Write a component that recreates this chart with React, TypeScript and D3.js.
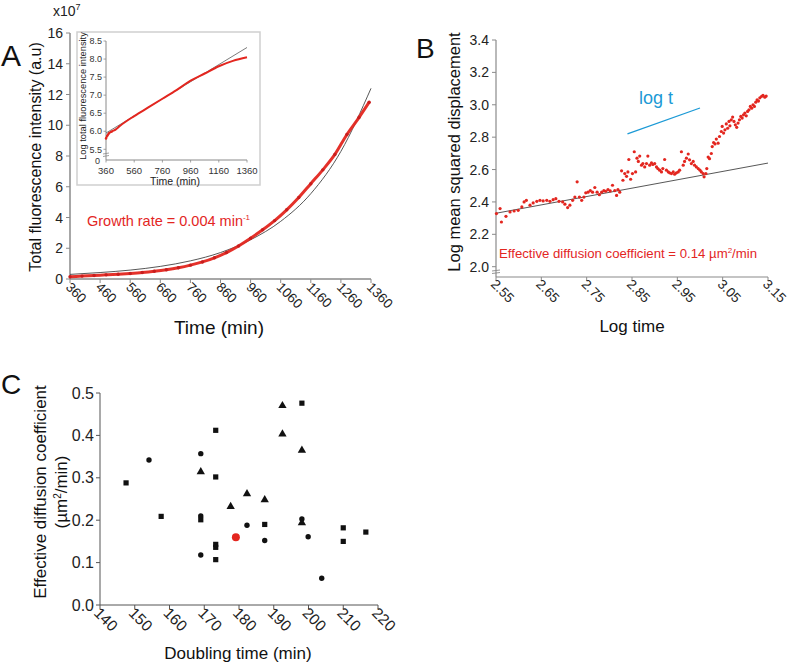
import React from "react";
import * as d3 from "d3";

const FONT = "'Liberation Sans', Arial, Helvetica, sans-serif";
const RED = "#e3261f";
const BLUE = "#1c9ad6";

// ---------- Panel A data ----------
const growthTimes = [360, 400, 440, 480, 520, 560, 600, 640, 680, 720, 760, 800, 840, 880, 920, 960, 1000, 1040, 1080, 1120, 1160, 1200, 1240, 1280, 1320, 1354];
const growthValues = [0.15, 0.19, 0.23, 0.27, 0.31, 0.36, 0.42, 0.5, 0.6, 0.73, 0.9, 1.11, 1.38, 1.72, 2.15, 2.65, 3.2, 3.8, 4.5, 5.3, 6.2, 7.1, 8.1, 9.4, 10.5, 11.5];
const fitTimes = [360, 460, 560, 660, 760, 860, 960, 1060, 1160, 1260, 1360];
const fitValues = [0.3, 0.42, 0.58, 0.82, 1.18, 1.72, 2.55, 3.75, 5.55, 8.3, 12.4];
const aXTicks = [360, 460, 560, 660, 760, 860, 960, 1060, 1160, 1260, 1360];
const aYTicks = [0, 2, 4, 6, 8, 10, 12, 14, 16];

const insetTimes = [360, 370, 380, 400, 430, 460, 560, 660, 760, 860, 960, 1060, 1160, 1260, 1360];
const insetLog = [5.8, 5.88, 5.94, 5.99, 6.05, 6.15, 6.42, 6.66, 6.9, 7.14, 7.4, 7.6, 7.8, 7.95, 8.05];
const insetFitTimes = [360, 1360];
const insetFitLog = [5.95, 8.32];
const insetXTicks = [360, 560, 760, 960, 1160, 1360];
const insetYTicks = [5.5, 6.0, 6.5, 7.0, 7.5, 8.0, 8.5];

// ---------- Panel B data ----------
const msdLogTime = [2.551, 2.559, 2.562, 2.572, 2.581, 2.59, 2.599, 2.607, 2.612, 2.617, 2.625, 2.632, 2.64, 2.647, 2.654, 2.662, 2.669, 2.676, 2.682, 2.689, 2.697, 2.702, 2.708, 2.713, 2.719, 2.724, 2.729, 2.734, 2.739, 2.744, 2.748, 2.753, 2.758, 2.763, 2.768, 2.773, 2.778, 2.783, 2.788, 2.792, 2.797, 2.802, 2.807, 2.812, 2.816, 2.819, 2.823, 2.827, 2.83, 2.834, 2.838, 2.841, 2.843, 2.847, 2.851, 2.855, 2.858, 2.861, 2.864, 2.867, 2.871, 2.874, 2.878, 2.882, 2.885, 2.889, 2.893, 2.896, 2.9, 2.904, 2.907, 2.911, 2.915, 2.918, 2.922, 2.926, 2.93, 2.933, 2.937, 2.941, 2.944, 2.948, 2.952, 2.955, 2.959, 2.963, 2.966, 2.97, 2.974, 2.977, 2.981, 2.985, 2.988, 2.992, 2.996, 3.0, 3.003, 3.007, 3.009, 3.013, 3.015, 3.018, 3.021, 3.025, 3.027, 3.03, 3.033, 3.036, 3.04, 3.043, 3.047, 3.049, 3.052, 3.055, 3.058, 3.061, 3.064, 3.066, 3.069, 3.072, 3.075, 3.078, 3.081, 3.084, 3.087, 3.09, 3.093, 3.096, 3.099, 3.102, 3.105, 3.108, 3.111, 3.114, 3.117, 3.12, 3.123, 3.126, 3.129, 3.132, 3.136, 3.139, 3.143, 3.146];
const msdLogDisp = [2.328, 2.359, 2.276, 2.311, 2.338, 2.344, 2.348, 2.369, 2.4, 2.41, 2.38, 2.394, 2.404, 2.41, 2.406, 2.41, 2.404, 2.414, 2.42, 2.404, 2.4, 2.386, 2.365, 2.38, 2.41, 2.43, 2.524, 2.43, 2.41, 2.43, 2.456, 2.46, 2.47, 2.46, 2.489, 2.46, 2.445, 2.46, 2.47, 2.466, 2.476, 2.468, 2.503, 2.47, 2.44, 2.476, 2.46, 2.592, 2.534, 2.575, 2.558, 2.585, 2.662, 2.54, 2.575, 2.71, 2.585, 2.67, 2.65, 2.683, 2.627, 2.637, 2.616, 2.637, 2.683, 2.627, 2.641, 2.631, 2.637, 2.616, 2.606, 2.596, 2.585, 2.606, 2.662, 2.596, 2.585, 2.58, 2.575, 2.585, 2.571, 2.58, 2.585, 2.596, 2.71, 2.627, 2.65, 2.67, 2.696, 2.66, 2.637, 2.65, 2.627, 2.616, 2.606, 2.596, 2.585, 2.575, 2.555, 2.575, 2.606, 2.677, 2.667, 2.699, 2.742, 2.767, 2.758, 2.788, 2.763, 2.804, 2.835, 2.866, 2.825, 2.845, 2.882, 2.855, 2.897, 2.87, 2.907, 2.924, 2.897, 2.876, 2.861, 2.887, 2.907, 2.928, 2.918, 2.938, 2.949, 2.932, 2.959, 2.969, 2.99, 2.979, 3.0, 2.99, 3.016, 3.031, 3.023, 3.043, 3.052, 3.058, 3.047, 3.054];
const diffFitX = [2.55, 3.15];
const diffFitY = [2.33, 2.64];
const slopeX = [2.84, 3.0];
const slopeY = [2.82, 2.98];
const bXTicks = [2.55, 2.65, 2.75, 2.85, 2.95, 3.05, 3.15];
const bYTicks = [2.0, 2.2, 2.4, 2.6, 2.8, 3.0, 3.2, 3.4];

// ---------- Panel C data ----------
const squareDoubling = [147.5, 157.6, 169.0, 173.3, 173.3, 173.3, 173.3, 173.3, 187.4, 198.1, 210.0, 210.0, 216.5];
const squareDiff = [0.288, 0.209, 0.201, 0.412, 0.302, 0.143, 0.136, 0.107, 0.19, 0.476, 0.182, 0.15, 0.172];
const circleDoubling = [154.1, 169.0, 169.0, 169.0, 182.3, 187.4, 198.1, 199.9, 203.8];
const circleDiff = [0.342, 0.357, 0.21, 0.118, 0.188, 0.152, 0.203, 0.161, 0.063];
const triangleDoubling = [169.0, 177.6, 182.3, 187.4, 192.5, 192.5, 198.1, 198.1];
const triangleDiff = [0.314, 0.232, 0.262, 0.248, 0.47, 0.403, 0.365, 0.194];
const highlightDoubling = [179.1];
const highlightDiff = [0.16];
const cXTicks = [140, 150, 160, 170, 180, 190, 200, 210, 220];
const cYTicks = [0.0, 0.1, 0.2, 0.3, 0.4, 0.5];

export default function App() {
  // Panel A scales
  const xA = d3.scaleLinear().domain([360, 1360]).range([70, 371]);
  const yA = d3.scaleLinear().domain([0, 16]).range([279, 33]);
  const lineA = d3.line<[number, number]>().x((d) => xA(d[0])).y((d) => yA(d[1])).curve(d3.curveMonotoneX);
  const growthPts: [number, number][] = growthTimes.map((t, i) => [t, growthValues[i]]);
  const fitPts: [number, number][] = fitTimes.map((t, i) => [t, fitValues[i]]);

  // Inset scales
  const xI = d3.scaleLinear().domain([360, 1360]).range([106, 247]);
  const yI = d3.scaleLinear().domain([5.5, 8.5]).range([149.3, 41]);
  const insetZeroY = 160;
  const lineI = d3.line<[number, number]>().x((d) => xI(d[0])).y((d) => yI(d[1])).curve(d3.curveMonotoneX);
  const insetPts: [number, number][] = insetTimes.map((t, i) => [t, insetLog[i]]);
  const insetFitPts: [number, number][] = insetFitTimes.map((t, i) => [t, insetFitLog[i]]);

  // Panel B scales
  const xB = d3.scaleLinear().domain([2.55, 3.15]).range([496, 768]);
  const yB = d3.scaleLinear().domain([2.0, 3.4]).range([266.7, 40]);
  const bAxisY = 277;

  // Panel C scales
  const xC = d3.scaleLinear().domain([140, 220]).range([100, 378]);
  const yC = d3.scaleLinear().domain([0, 0.5]).range([605, 393]);
  const tri = d3.symbol().type(d3.symbolTriangle).size(30)();

  const axisGray = "#8a8a8a";

  return (
    <svg width={789} height={665} style={{ position: "absolute", left: 0, top: 0, background: "#fff" }} fontFamily={FONT}>
      <rect x={0} y={0} width={789} height={665} fill="#fff" />

      {/* ================= Panel A ================= */}
      <text x={1} y={66} fontSize={30} fill="#111">A</text>
      <text x={53} y={16} fontSize={14} fill="#222">
        x10<tspan fontSize={9} dy={-6}>7</tspan>
      </text>
      {/* axes */}
      <line x1={70} x2={70} y1={yA(16)} y2={279} stroke={axisGray} strokeWidth={1.5} />
      <line x1={70} x2={371} y1={279} y2={279} stroke={axisGray} strokeWidth={1.5} />
      {aYTicks.map((v) => (
        <g key={"ay" + v}>
          <line x1={66} x2={70} y1={yA(v)} y2={yA(v)} stroke={axisGray} strokeWidth={1} />
          <text x={63} y={yA(v) + 5} fontSize={14} textAnchor="end" fill="#222">{v}</text>
        </g>
      ))}
      {aXTicks.map((v) => (
        <g key={"ax" + v}>
          <line x1={xA(v)} x2={xA(v)} y1={279} y2={283} stroke={axisGray} strokeWidth={1} />
          <text transform={`translate(${xA(v) - 5},${288}) rotate(45)`} fontSize={13.5} fill="#222">{v}</text>
        </g>
      ))}
      <text x={219} y={334} fontSize={19} textAnchor="middle" fill="#111">Time (min)</text>
      <text transform={`translate(41,157) rotate(-90)`} fontSize={16} textAnchor="middle" fill="#111">Total fluorescence intensity (a.u)</text>
      {/* data */}
      <path d={lineA(fitPts) || ""} fill="none" stroke="#444" strokeWidth={0.9} />
      <path d={lineA(growthPts) || ""} fill="none" stroke={RED} strokeWidth={3} opacity={0.95} />
      {growthPts.map((p, i) => (
        <circle key={"gp" + i} cx={xA(p[0])} cy={yA(p[1])} r={1.7} fill="#c81e1e" />
      ))}
      <text x={87} y={226} fontSize={14.5} fill={RED}>
        Growth rate = 0.004 min<tspan fontSize={8} dy={-6}>-1</tspan>
      </text>

      {/* Inset */}
      <rect x={77} y={32} width={183} height={153} fill="#fff" stroke="#cfcfcf" strokeWidth={1.5} />
      <line x1={106} x2={106} y1={yI(8.5)} y2={insetZeroY} stroke={axisGray} strokeWidth={1} />
      <line x1={106} x2={247} y1={insetZeroY} y2={insetZeroY} stroke={axisGray} strokeWidth={1} />
      <line x1={103} x2={109} y1={154} y2={153} stroke={axisGray} strokeWidth={0.8} />
      <line x1={103} x2={109} y1={156.5} y2={155.5} stroke={axisGray} strokeWidth={0.8} />
      {insetYTicks.map((v) => (
        <g key={"iy" + v}>
          <line x1={103.5} x2={106} y1={yI(v)} y2={yI(v)} stroke={axisGray} strokeWidth={0.8} />
          <text x={102} y={yI(v) + 3.2} fontSize={9} textAnchor="end" fill="#333">{v.toFixed(1)}</text>
        </g>
      ))}
      <text x={100} y={164} fontSize={9} textAnchor="end" fill="#333">0</text>
      {insetXTicks.map((v) => (
        <g key={"ix" + v}>
          <line x1={xI(v)} x2={xI(v)} y1={insetZeroY} y2={insetZeroY + 2.5} stroke={axisGray} strokeWidth={0.8} />
          <text x={xI(v)} y={174} fontSize={9.5} textAnchor="middle" fill="#333">{v}</text>
        </g>
      ))}
      <text x={175} y={185} fontSize={10.5} textAnchor="middle" fill="#222">Time (min)</text>
      <text transform={`translate(86,96) rotate(-90)`} fontSize={9.3} textAnchor="middle" fill="#222">Log total fluorescence intensity</text>
      <path d={lineI(insetFitPts) || ""} fill="none" stroke="#444" strokeWidth={0.7} />
      <path d={lineI(insetPts) || ""} fill="none" stroke={RED} strokeWidth={2} />
      {insetPts.slice(0, 4).map((p, i) => (
        <circle key={"ip" + i} cx={xI(p[0])} cy={yI(p[1])} r={1.2} fill={RED} />
      ))}

      {/* ================= Panel B ================= */}
      <text x={416} y={58} fontSize={28} fill="#111">B</text>
      <line x1={496} x2={496} y1={yB(3.4)} y2={bAxisY} stroke={axisGray} strokeWidth={1.2} />
      <line x1={496} x2={768} y1={bAxisY} y2={bAxisY} stroke={axisGray} strokeWidth={1.2} />
      <line x1={492} x2={500} y1={271} y2={270} stroke={axisGray} strokeWidth={0.9} />
      <line x1={492} x2={500} y1={273.5} y2={272.5} stroke={axisGray} strokeWidth={0.9} />
      {bYTicks.map((v) => (
        <g key={"by" + v}>
          <line x1={492} x2={496} y1={yB(v)} y2={yB(v)} stroke={axisGray} strokeWidth={1} />
          <text x={489} y={yB(v) + 5} fontSize={14} textAnchor="end" fill="#222">{v.toFixed(1)}</text>
        </g>
      ))}
      {bXTicks.map((v) => (
        <g key={"bx" + v}>
          <line x1={xB(v)} x2={xB(v)} y1={bAxisY} y2={bAxisY + 4} stroke={axisGray} strokeWidth={1} />
          <text transform={`translate(${xB(v) - 6},${bAxisY + 8}) rotate(45)`} fontSize={13.5} fill="#222">{v.toFixed(2)}</text>
        </g>
      ))}
      <text x={632} y={332} fontSize={17} textAnchor="middle" fill="#111">Log time</text>
      <text transform={`translate(460,152) rotate(-90)`} fontSize={16.5} textAnchor="middle" fill="#111">Log mean squared displacement</text>
      <line x1={xB(diffFitX[0])} x2={xB(diffFitX[1])} y1={yB(diffFitY[0])} y2={yB(diffFitY[1])} stroke="#444" strokeWidth={0.9} />
      <line x1={xB(slopeX[0])} x2={xB(slopeX[1])} y1={yB(slopeY[0])} y2={yB(slopeY[1])} stroke={BLUE} strokeWidth={1.3} />
      <text x={639} y={104} fontSize={18} fill={BLUE}>log t</text>
      {msdLogTime.map((t, i) => (
        <circle key={"b" + i} cx={xB(t)} cy={yB(msdLogDisp[i])} r={1.6} fill={RED} />
      ))}
      <text x={499} y={258} fontSize={13.2} fill={RED}>
        Effective diffusion coefficient = 0.14 µm<tspan fontSize={8} dy={-5}>2</tspan><tspan dy={5}>/min</tspan>
      </text>

      {/* ================= Panel C ================= */}
      <text x={1} y={394} fontSize={28} fill="#111">C</text>
      <line x1={100} x2={100} y1={yC(0.5)} y2={605} stroke="#555" strokeWidth={1} />
      <line x1={100} x2={378} y1={605} y2={605} stroke="#555" strokeWidth={1} />
      {cYTicks.map((v) => (
        <g key={"cy" + v}>
          <line x1={96} x2={100} y1={yC(v)} y2={yC(v)} stroke="#555" strokeWidth={1} />
          <text x={94} y={yC(v) + 5.5} fontSize={16} textAnchor="end" fill="#222">{v.toFixed(1)}</text>
        </g>
      ))}
      {cXTicks.map((v) => (
        <g key={"cx" + v}>
          <line x1={xC(v)} x2={xC(v)} y1={605} y2={609} stroke="#555" strokeWidth={1} />
          <text transform={`translate(${xC(v) - 7},${614}) rotate(45)`} fontSize={15.5} fill="#222">{v}</text>
        </g>
      ))}
      <text x={238} y={659} fontSize={17} textAnchor="middle" fill="#111">Doubling time (min)</text>
      <text transform={`translate(46,492) rotate(-90)`} fontSize={17} textAnchor="middle" fill="#111">Effective diffusion coefficient</text>
      <text transform={`translate(67,492) rotate(-90)`} fontSize={17} textAnchor="middle" fill="#111">
        (µm<tspan fontSize={10} dy={-6}>2</tspan><tspan dy={6}>/min)</tspan>
      </text>
      {squareDoubling.map((d, i) => (
        <rect key={"sq" + i} x={xC(d) - 2.6} y={yC(squareDiff[i]) - 2.6} width={5.2} height={5.2} fill="#111" />
      ))}
      {circleDoubling.map((d, i) => (
        <circle key={"ci" + i} cx={xC(d)} cy={yC(circleDiff[i])} r={2.7} fill="#111" />
      ))}
      {triangleDoubling.map((d, i) => (
        <path key={"tr" + i} d={tri || ""} transform={`translate(${xC(d)},${yC(triangleDiff[i])})`} fill="#111" />
      ))}
      {highlightDoubling.map((d, i) => (
        <circle key={"hl" + i} cx={xC(d)} cy={yC(highlightDiff[i])} r={4} fill={RED} />
      ))}
    </svg>
  );
}
